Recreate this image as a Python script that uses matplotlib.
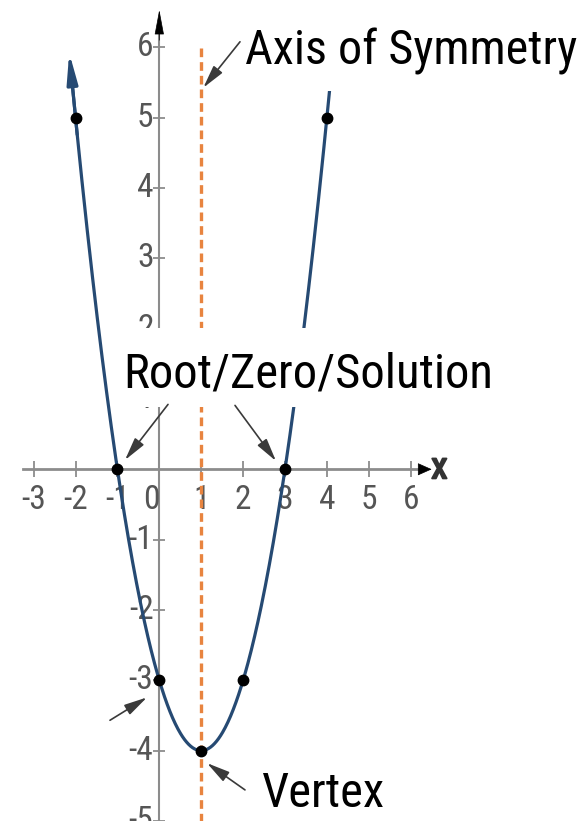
import os
import numpy as np
import matplotlib.pyplot as plt
import matplotlib.patheffects as pe
from matplotlib import font_manager as fm
from matplotlib.font_manager import FontProperties
from matplotlib.patches import Rectangle

# Quadratic y = x^2 - 2x - 3
coeffs = [1, -2, -3]
point_x = [-2, -1, 0, 1, 2, 3, 4]
point_y = [5, 0, -3, -4, -3, 0, 5]
axis_of_symmetry = 1
x_ticks = [-3, -2, -1, 1, 2, 3, 4, 5, 6]
y_ticks = [-5, -4, -3, -2, -1, 1, 2, 3, 4, 5, 6]
curve_range = (-2.15, 4.2)

CURVE = '#264a73'
AXIS = '#8c8c8c'
LABEL = '#555555'
ARROW = '#3a3a3a'
DASH = '#e8843f'


def find_font(names, file_keys, fallback):
    """Return the path of the first installed font from the preference lists."""
    entries = fm.fontManager.ttflist
    for n in names:
        for e in entries:
            if e.name == n and e.style == 'normal' and e.weight in (400, 'normal', 'regular'):
                return e.fname
    for key in file_keys:
        for e in entries:
            base = os.path.basename(e.fname)
            if key.lower() in base.lower().replace('-', '').replace('_', ''):
                return e.fname
    return fm.findfont(FontProperties(family=fallback))


narrow_path = find_font(
    ['Liberation Sans Narrow', 'Arial Narrow', 'Roboto Condensed',
     'Noto Sans Condensed', 'Open Sans Condensed'],
    ['LiberationSansNarrowRegular', 'RobotoCondensedRegular',
     'NotoSansCondensed.', 'NotoSansCondensedRegular', 'DejaVuSansCondensed.'],
    'Liberation Sans')
note_path = narrow_path
tick_path = narrow_path


def tick_fp(size):
    return FontProperties(fname=tick_path, size=size)


fig = plt.figure(figsize=(5.84, 8.21), dpi=100)
ax = fig.add_axes([0, 0, 1, 1])
ax.set_xlim(-3.802, 10.136)
ax.set_ylim(-4.925, 6.671)

# axes through the origin
for side in ('top', 'right'):
    ax.spines[side].set_visible(False)
for side in ('left', 'bottom'):
    ax.spines[side].set_position(('data', 0))
    ax.spines[side].set_color(AXIS)
    ax.spines[side].set_zorder(1)
ax.spines['bottom'].set_linewidth(2.0)
ax.spines['left'].set_linewidth(1.5)
ax.spines['bottom'].set_bounds(-3.25, 6.3)
ax.spines['left'].set_bounds(-5.2, 6.2)
ax.set_xticks(x_ticks)
ax.set_yticks(y_ticks)
ax.tick_params(axis='x', direction='inout', length=12, width=1.3, color=AXIS,
               labelbottom=False)
ax.tick_params(axis='y', direction='inout', length=8, width=1.3, color=AXIS,
               labelleft=False)

# axis arrow heads
ax.annotate('', xy=(6.5, 0), xytext=(6.2, 0),
            arrowprops=dict(arrowstyle='-|>,head_length=0.45,head_width=0.2',
                            color='black', lw=0.5, mutation_scale=20,
                            shrinkA=0, shrinkB=0))
ax.annotate('', xy=(0, 6.53), xytext=(0, 6.1),
            arrowprops=dict(arrowstyle='-|>,head_length=0.8,head_width=0.15',
                            color='black', lw=0.5, mutation_scale=20,
                            shrinkA=0, shrinkB=0))
ax.text(6.685, 0.02, 'x', fontproperties=tick_fp(27), color='#333333',
        ha='center', va='center',
        path_effects=[pe.withStroke(linewidth=1.4, foreground='#333333')])

# tick labels
for t in x_ticks:
    ax.text(t, -0.44, str(t), fontproperties=tick_fp(24), color=LABEL,
            ha='center', va='center', zorder=2)
ax.text(-0.18, -0.44, '0', fontproperties=tick_fp(24), color=LABEL,
        ha='center', va='center', zorder=2)
for t in y_ticks:
    ax.text(-0.14, t, str(t), fontproperties=tick_fp(24), color=LABEL,
            ha='right', va='center', zorder=2)

# axis of symmetry
ax.plot([axis_of_symmetry, axis_of_symmetry], [-5.2, 6.01], color=DASH,
        lw=2.4, dashes=(2.6, 1.5), zorder=3)

# parabola
xs = np.linspace(curve_range[0], curve_range[1], 400)
ys = np.polyval(coeffs, xs)
ax.plot(xs[3:], ys[3:], color=CURVE, lw=2.3, zorder=4, solid_capstyle='butt')
ax.annotate('', xy=(xs[0], ys[0]), xytext=(xs[12], ys[12]),
            arrowprops=dict(arrowstyle='-|>,head_length=0.9,head_width=0.16',
                            color=CURVE, lw=2.3, mutation_scale=20,
                            shrinkA=0, shrinkB=0), zorder=4)
ax.plot(point_x, point_y, 'o', color='black', markersize=7.5, zorder=5)

# white label panels
ax.add_patch(Rectangle((118 / 584, 1 - 407 / 821), (500 - 118) / 584,
                       (407 - 328) / 821, transform=ax.transAxes,
                       facecolor='white', edgecolor='none', zorder=6))
ax.add_patch(Rectangle((243 / 584, 1 - 91 / 821), (584 - 243) / 584,
                       91 / 821, transform=ax.transAxes,
                       facecolor='white', edgecolor='none', zorder=6))

# annotations, each sized to its label width in pixels
notes = [
    ('Axis of Symmetry', (2.045, 5.753), 332),
    ('Root/Zero/Solution', (-0.866, 1.163), 370),
    ('Vertex', (2.45, -4.80), 123),
]
renderer = fig.canvas.get_renderer()
for label, pos, width_px in notes:
    txt = ax.text(pos[0], pos[1], label,
                  fontproperties=FontProperties(fname=note_path, size=40),
                  color='black', ha='left', va='baseline', zorder=7)
    w = txt.get_window_extent(renderer).width
    txt.set_fontsize(40 * width_px / w)

arrows = [
    ((1.926, 6.077), (1.050, 5.424)),
    ((0.208, 0.922), (-0.819, 0.131)),
    ((1.807, 0.908), (2.785, 0.117)),
    ((-1.177, -3.568), (-0.294, -3.243)),
    ((2.045, -4.558), (1.138, -4.177)),
]
for tail, tip in arrows:
    ax.annotate('', xy=tip, xytext=tail,
                arrowprops=dict(arrowstyle='-|>,head_length=0.7,head_width=0.17',
                                color=ARROW, lw=1.2, mutation_scale=20,
                                shrinkA=0, shrinkB=0), zorder=8)

fig.savefig('out.png', dpi=100)
